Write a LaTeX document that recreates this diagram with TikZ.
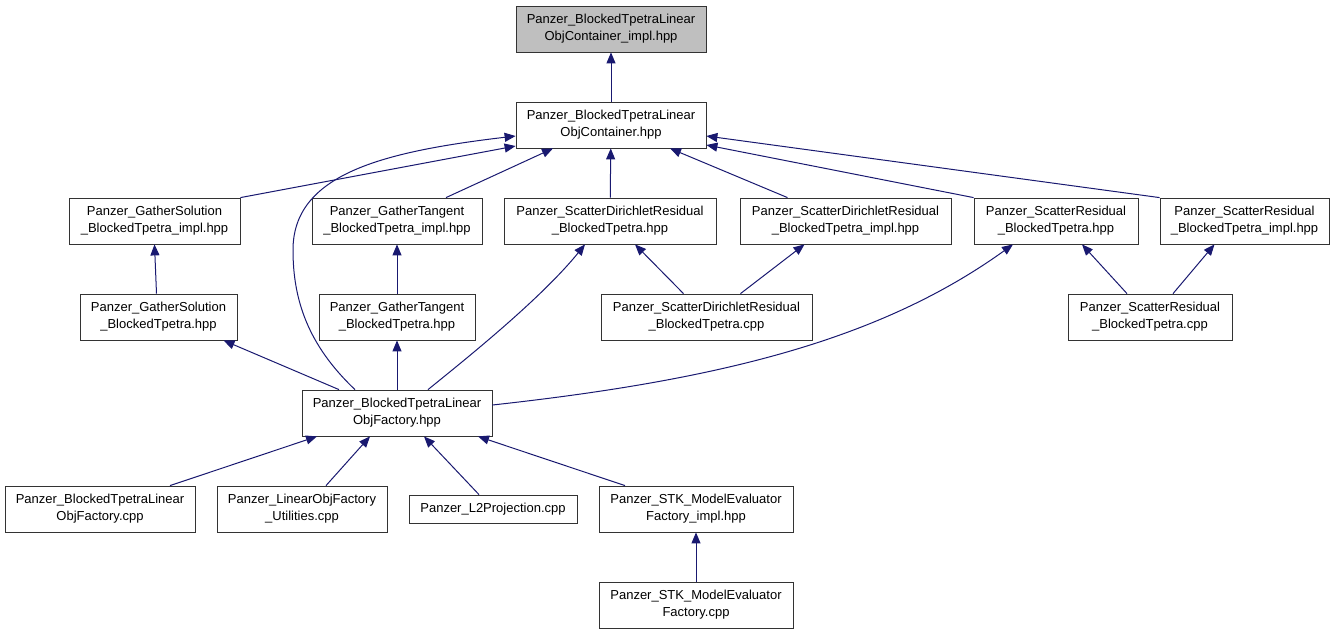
\documentclass[tikz,border=0pt]{standalone}
\usepackage{fontspec}
\setmainfont{Liberation Sans}
\usepackage{tikz}
\usetikzlibrary{arrows.meta,positioning}
\definecolor{incblue}{HTML}{191970}
\definecolor{curgray}{HTML}{BFBFBF}
\tikzset{
  filebox/.style={
    draw=black!80, line width=0.8pt, fill=white, text=black,
    align=center, font=\fontsize{13}{17}\selectfont,
    inner sep=2pt, minimum height=46pt},
  filebox_cur/.style={
    filebox, fill=curgray},
  incarrow/.style={
    -{Triangle[length=11pt,width=9pt]}, line width=1pt, color=incblue},
}
\begin{document}
\begin{tikzpicture}[x=1pt, y=-1pt]
  \useasboundingbox (0,0) rectangle (1335,635);
  % header being documented
  \node[filebox_cur, minimum width=190pt] (cimpl) at (611,29) {Panzer\_BlockedTpetraLinear\\ObjContainer\_impl.hpp};
  \node[filebox, minimum width=190pt] (cont) at (611,125) {Panzer\_BlockedTpetraLinear\\ObjContainer.hpp};
  % third row
  \node[filebox, minimum width=171pt] (gsi) at (154.5,221) {Panzer\_GatherSolution\\\_BlockedTpetra\_impl.hpp};
  \node[filebox, minimum width=170pt] (gti) at (397,221) {Panzer\_GatherTangent\\\_BlockedTpetra\_impl.hpp};
  \node[filebox, minimum width=212pt] (sdr) at (610,221) {Panzer\_ScatterDirichletResidual\\\_BlockedTpetra.hpp};
  \node[filebox, minimum width=211pt] (sdri) at (845.5,221) {Panzer\_ScatterDirichletResidual\\\_BlockedTpetra\_impl.hpp};
  \node[filebox, minimum width=164pt] (sr) at (1056,221) {Panzer\_ScatterResidual\\\_BlockedTpetra.hpp};
  \node[filebox, minimum width=169pt] (sri) at (1244.5,221) {Panzer\_ScatterResidual\\\_BlockedTpetra\_impl.hpp};
  % fourth row
  \node[filebox, minimum width=157pt] (gs) at (158.5,317) {Panzer\_GatherSolution\\\_BlockedTpetra.hpp};
  \node[filebox, minimum width=156pt] (gt) at (397,317) {Panzer\_GatherTangent\\\_BlockedTpetra.hpp};
  \node[filebox, minimum width=211pt] (sdrc) at (706.5,317) {Panzer\_ScatterDirichletResidual\\\_BlockedTpetra.cpp};
  \node[filebox, minimum width=164pt] (src) at (1150,317) {Panzer\_ScatterResidual\\\_BlockedTpetra.cpp};
  % factory and its users
  \node[filebox, minimum width=190pt] (fac) at (397,413) {Panzer\_BlockedTpetraLinear\\ObjFactory.hpp};
  \node[filebox, minimum width=190pt] (facc) at (100,509) {Panzer\_BlockedTpetraLinear\\ObjFactory.cpp};
  \node[filebox, minimum width=170pt] (util) at (302,509) {Panzer\_LinearObjFactory\\\_Utilities.cpp};
  \node[filebox, minimum width=168pt, minimum height=28pt] (l2) at (493,509) {Panzer\_L2Projection.cpp};
  \node[filebox, minimum width=194pt] (stki) at (696,509) {Panzer\_STK\_ModelEvaluator\\Factory\_impl.hpp};
  \node[filebox, minimum width=194pt] (stkc) at (696,605) {Panzer\_STK\_ModelEvaluator\\Factory.cpp};

  \draw[incarrow] (cont) -- (cimpl);
  \draw[incarrow] (gsi.north east) -- ([yshift=-21pt]cont.west);
  \draw[incarrow] ([xshift=-42pt]fac.north) .. controls (308,345) and (293,300) .. (293,250)
                  .. controls (293,175) and (380,152) .. ([yshift=-11pt]cont.west);
  \draw[incarrow] ([xshift=49pt]gti.north) -- ([xshift=-58pt]cont.south);
  \draw[incarrow] (sdr) -- (cont);
  \draw[incarrow] ([xshift=-58pt]sdri.north) -- ([xshift=59pt]cont.south);
  \draw[incarrow] (sr.north west) -- ([yshift=-20pt]cont.east);
  \draw[incarrow] (sri.north west) -- ([yshift=-11pt]cont.east);
  \draw[incarrow] ([xshift=-2pt]gs.north) -- (gsi.south);
  \draw[incarrow] (gt) -- (gti);
  \draw[incarrow] ([xshift=-23pt]sdrc.north) -- ([xshift=25pt]sdr.south);
  \draw[incarrow] ([xshift=34pt]sdrc.north) -- ([xshift=-41pt]sdri.south);
  \draw[incarrow] ([xshift=-23pt]src.north) -- ([xshift=26pt]sr.south);
  \draw[incarrow] ([xshift=23pt]src.north) -- ([xshift=-30pt]sri.south);
  \draw[incarrow] ([xshift=-58pt]fac.north) -- ([xshift=65pt]gs.south);
  \draw[incarrow] (fac) -- (gt);
  \draw[incarrow] ([xshift=31pt]fac.north) .. controls (462,362) and (540,300) .. ([xshift=-25pt]sdr.south);
  \draw[incarrow] ([yshift=8pt]fac.east) .. controls (720,380) and (880,340) .. ([xshift=-43pt]sr.south);
  \draw[incarrow] ([xshift=70pt]facc.north) -- ([xshift=-80pt]fac.south);
  \draw[incarrow] ([xshift=24pt]util.north) -- ([xshift=-27pt]fac.south);
  \draw[incarrow] ([xshift=-14pt]l2.north) -- ([xshift=27pt]fac.south);
  \draw[incarrow] ([xshift=-71pt]stki.north) -- ([xshift=81pt]fac.south);
  \draw[incarrow] (stkc) -- (stki);
\end{tikzpicture}
\end{document}
